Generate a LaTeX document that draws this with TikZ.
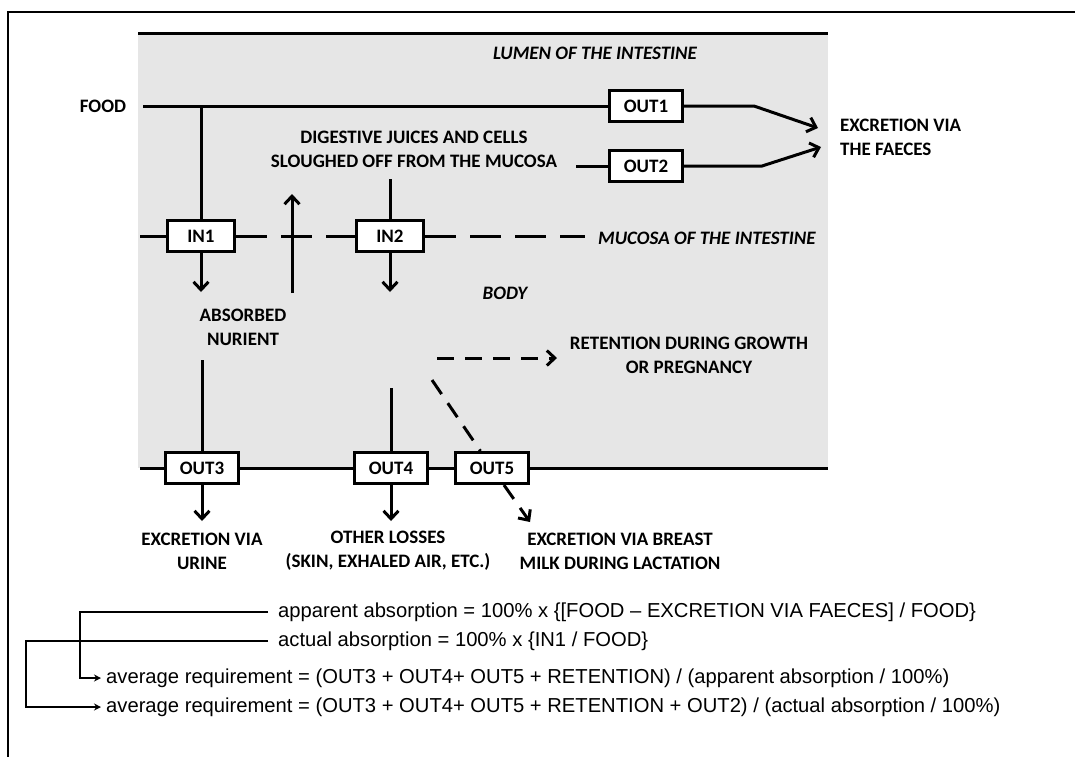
\documentclass[tikz,border=0pt]{standalone}
\usepackage{fontspec}
\setmainfont{Carlito}
\newfontfamily\formfont{Liberation Sans}
\usetikzlibrary{arrows.meta}
\definecolor{bggray}{RGB}{230,230,230}
\newcommand\lblfont{\fontsize{19}{24}\selectfont\bfseries}
\newcommand\frmfont{\formfont\fontsize{20.2}{24}\selectfont}
\begin{document}
\begin{tikzpicture}[x=1pt,y=-1pt,
  lbl/.style={font=\lblfont, align=center, inner sep=0pt},
  ilbl/.style={font=\lblfont\itshape, align=center, inner sep=0pt},
  frm/.style={font=\frmfont, anchor=west, inner sep=0pt},
  box/.style={draw, line width=3pt, fill=white, minimum width=67pt, minimum height=31pt, inner sep=0pt, font=\lblfont},
  obox/.style={box, minimum width=73pt},
  flow/.style={line width=3pt},
  arr/.style={line width=3pt, -{Straight Barb[length=8pt,width=15pt]}},
  mdash/.style={line width=3pt, dash pattern=on 31pt off 14pt},
  sdash/.style={line width=3pt, dash pattern=on 17pt off 11pt},
  darr/.style={sdash, -{Straight Barb[length=8pt,width=15pt]}},
  brk/.style={line width=1.5pt},
  brkarr/.style={brk, -{Stealth[length=7pt,width=7pt]}}
]
\useasboundingbox (0,0) rectangle (1075,756);
\clip (0,0) rectangle (1075,756);
% frame
\draw[line width=1.6pt] (8,770) -- (8,12) -- (1090,12);
% grey body region
\fill[bggray] (138,33) rectangle (828,468);
\coordinate (tL) at (138,33);
\coordinate (tR) at (828,33);
\draw[flow] (tL) -- (tR);

% labels in the lumen
\node[ilbl] (lumen) at (595,53) {LUMEN OF THE INTESTINE};
\node[lbl] (food) at (103,106) {FOOD};
\node[lbl] (juices) at (414,149) {DIGESTIVE JUICES AND CELLS\\SLOUGHED OFF FROM THE MUCOSA};
\node[lbl, align=left, anchor=west] (faeces) at (840,137) {EXCRETION VIA\\THE FAECES};

% food line
\coordinate (foodL) at (143,106);
\node[obox] (out1) at (646,106) {OUT1};
\coordinate (f1) at (754,106);
\coordinate (t1) at (818,128);
\draw[flow] (foodL) -- (out1);
\draw[arr] (out1) -- (f1) -- (t1);

% juices line
\coordinate (o2L) at (576,166);
\node[obox] (out2) at (646,166) {OUT2};
\coordinate (f2) at (762,166);
\coordinate (t2) at (821,147);
\draw[flow] (o2L) -- (out2);
\draw[arr] (out2) -- (f2) -- (t2);

% mucosa
\coordinate (mL) at (140,236);
\coordinate (mR) at (585,236);
\node[box] (in1) at (201,236) {IN1};
\node[box] (in2) at (390,236) {IN2};
\draw[flow] (mL) -- (in1);
\draw[mdash] (in1) -- (in2);
\draw[mdash] (in2) -- (mR);
\node[box] at (201,236) {IN1};
\node[box] at (390,236) {IN2};
\node[ilbl, anchor=west] (mucosa) at (598,238) {MUCOSA OF THE INTESTINE};

% verticals through the mucosa
\coordinate (j1) at (201,106);
\draw[flow] (j1) -- (in1);
\coordinate (a1) at (201,292);
\draw[arr] (in1) -- (a1);
\coordinate (d2) at (390,179);
\draw[flow] (d2) -- (in2);
\coordinate (a2) at (390,292);
\draw[arr] (in2) -- (a2);
\coordinate (u0) at (292,293);
\coordinate (u1) at (292,194);
\draw[arr] (u0) -- (u1);

% body
\node[ilbl] (body) at (505,293) {BODY};
\node[lbl] (absorbed) at (243,327) {ABSORBED\\NURIENT};
\node[lbl] (ret) at (689,355) {RETENTION DURING GROWTH\\OR PREGNANCY};
\coordinate (r0) at (437,358);
\coordinate (r1) at (557,358);
\draw[darr] (r0) -- (r1);

% bottom line and outputs
\coordinate (bL) at (140,468);
\coordinate (bR) at (828,468);
\node[obox] (out3) at (202,468) {OUT3};
\node[obox] (out4) at (391,468) {OUT4};
\node[obox] (out5) at (492,468) {OUT5};
\draw[flow] (bL) -- (out3);
\draw[flow] (out3) -- (out4);
\draw[flow] (out4) -- (out5);
\draw[flow] (out5) -- (bR);
\coordinate (v3) at (202,360);
\draw[flow] (v3) -- (out3);
\coordinate (v4) at (391,388);
\draw[flow] (v4) -- (out4);
\coordinate (d0) at (432,380);
\draw[sdash] (d0) -- (out5);
\coordinate (b3) at (202,521);
\coordinate (b4) at (391,521);
\coordinate (b5) at (530,522);
\draw[arr] (out3) -- (b3);
\draw[arr] (out4) -- (b4);
\draw[darr] (out5) -- (b5);
\node[obox] at (202,468) {OUT3};
\node[obox] at (391,468) {OUT4};
\node[obox] at (492,468) {OUT5};

\node[lbl] (urine) at (202,551) {EXCRETION VIA\\URINE};
\node[lbl] (other) at (388,551) {OTHER LOSSES\\(SKIN, EXHALED AIR, ETC.)};
\node[lbl] (milk) at (620,551) {EXCRETION VIA BREAST\\MILK DURING LACTATION};

% formulas
\node[frm] (app) at (278,612) {apparent absorption = 100\% x \{[FOOD \textendash{} EXCRETION VIA FAECES] / FOOD\}};
\node[frm] (act) at (278,641) {actual absorption = 100\% x \{IN1 / FOOD\}};
\node[frm] (avg1) at (106,678) {average requirement = (OUT3 + OUT4+ OUT5 + RETENTION) / (apparent absorption / 100\%)};
\node[frm] (avg2) at (106,707) {average requirement = (OUT3 + OUT4+ OUT5 + RETENTION + OUT2) / (actual absorption / 100\%)};
\coordinate (c1) at (80,612);
\coordinate (c2) at (26,641);
\draw[brkarr, shorten <=10pt, shorten >=5pt] (app.west) -- (c1) |- (avg1.west);
\draw[brkarr, shorten <=10pt, shorten >=5pt] (act.west) -- (c2) |- (avg2.west);
\end{tikzpicture}
\end{document}
